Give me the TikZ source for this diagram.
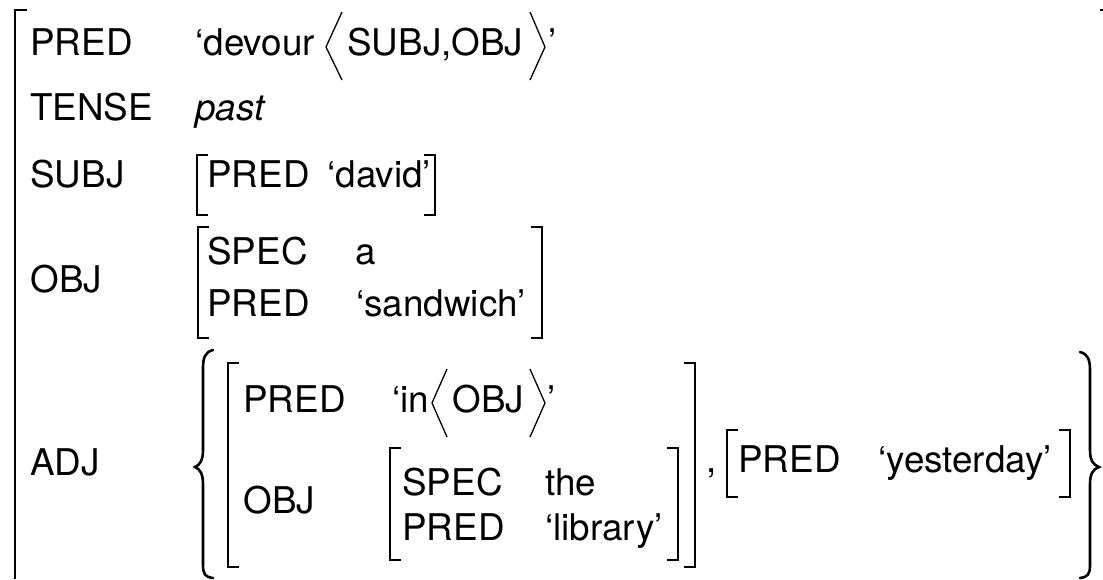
\documentclass[tikz,border=0pt]{standalone}
\usepackage{fontspec}
\setmainfont{TeX Gyre Heros}

\begin{document}
\begin{tikzpicture}[x=0.5pt, y=-0.5pt,
    feat/.style={anchor=base west, inner sep=0pt, font=\fontsize{18.4}{22}\selectfont},
    brack/.style={line width=0.75pt},
    outer/.style={line width=1pt},
    curly/.style={line width=1.3pt, line cap=round},
    angl/.style={line width=0.65pt}]

      \useasboundingbox (0,0) rectangle (1103,579);

      % Outer f-structure brackets (the right one only shows its top hook)
      \draw[outer] (27,10) -- (15,10) -- (15,579);
      \draw[outer] (1100,10) -- (1103,10);

      % PRED 'devour <SUBJ,OBJ>'
      \node[feat] (pred) at (30,55) {PRED};
      \node[feat] (devour) at (195,55) {`devour};
      \draw[angl] (342,12) -- (326,47) -- (342,80);
      \node[feat] (args) at (347,55) {SUBJ,OBJ};
      \draw[angl] (530,12) -- (545,47) -- (530,80);
      \node[feat] (devourq) at (548,55) {'};

      % TENSE past
      \node[feat] (tense) at (30,120) {TENSE};
      \node[feat, font=\fontsize{18.4}{22}\selectfont\itshape] (past) at (195,120) {past};

      % SUBJ
      \node[feat] (subj) at (30,187) {SUBJ};
      \draw[brack] (208,155) -- (197,155) -- (197,215) -- (208,215);
      \node[feat] (subjpred) at (207,187) {PRED};
      \node[feat] (david) at (327,187) {`david'};
      \draw[brack] (424,155) -- (435,155) -- (435,215) -- (424,215);

      % OBJ
      \node[feat] (obj) at (30,292) {OBJ};
      \draw[brack] (209,227) -- (198,227) -- (198,338) -- (209,338);
      \node[feat] (objspec) at (207,264) {SPEC};
      \node[feat] (a) at (355,264) {a};
      \node[feat] (objpred) at (207,316) {PRED};
      \node[feat] (sandwich) at (356,316) {`sandwich'};
      \draw[brack] (531,227) -- (542,227) -- (542,338) -- (531,338);

      % ADJ: set of two adjuncts
      \node[feat] (adj) at (30,475) {ADJ};
      \draw[curly] (213,350) .. controls (205,352) and (203,358) .. (203,368)
        -- (203,450) .. controls (203,460) and (200,465) .. (195,467)
        .. controls (200,469) and (203,474) .. (203,484)
        -- (203,565) .. controls (203,574) and (205,577) .. (213,578);
      \draw[curly] (1080,352) .. controls (1088,354) and (1090,360) .. (1090,370)
        -- (1090,450) .. controls (1090,460) and (1093,465) .. (1099,467)
        .. controls (1093,469) and (1090,474) .. (1090,484)
        -- (1090,565) .. controls (1090,574) and (1088,577) .. (1080,578);

      % Adjunct 1: 'in <OBJ>'
      \draw[brack] (239,363) -- (228,363) -- (228,567) -- (239,567);
      \node[feat] (inpred) at (243,412) {PRED};
      \node[feat] (in) at (392,412) {`in};
      \draw[angl] (447,369) -- (432,403) -- (447,437);
      \node[feat] (inarg) at (452,412) {OBJ};
      \draw[angl] (530,369) -- (545,403) -- (530,437);
      \node[feat] (inq) at (547,412) {'};
      \node[feat] (inobj) at (243,513) {OBJ};
      \draw[brack] (401,448) -- (390,448) -- (390,560) -- (401,560);
      \node[feat] (libspec) at (402,495) {SPEC};
      \node[feat] (the) at (545,495) {the};
      \node[feat] (libpred) at (402,540) {PRED};
      \node[feat] (library) at (545,540) {`library'};
      \draw[brack] (667,448) -- (678,448) -- (678,560) -- (667,560);
      \draw[brack] (684,363) -- (695,363) -- (695,567) -- (684,567);

      % Adjunct 2: 'yesterday'
      \node[feat] (comma) at (706,472) {,};
      \draw[brack] (738,430) -- (727,430) -- (727,497) -- (738,497);
      \node[feat] (yestpred) at (738,472) {PRED};
      \node[feat] (yesterday) at (878,472) {`yesterday'};
      \draw[brack] (1059,430) -- (1070,430) -- (1070,497) -- (1059,497);
    \end{tikzpicture}
\end{document}
